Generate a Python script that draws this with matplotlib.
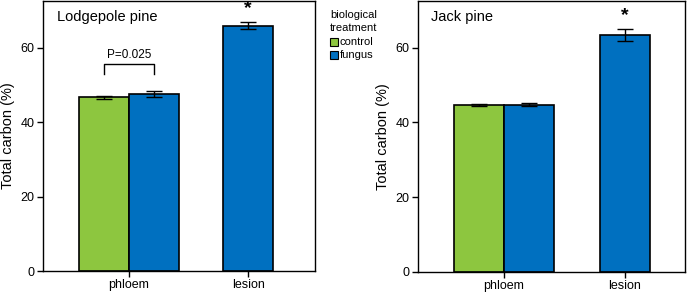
import numpy as np
import matplotlib.pyplot as plt
from matplotlib.patches import Rectangle

plt.rcParams['font.family'] = ['Liberation Sans', 'DejaVu Sans']

tissues = ["phloem", "lesion"]
treatments = ["control", "fungus"]
colors = {"control": "#8dc63f", "fungus": "#0070c0"}

# lodgepole pine: phloem (control, fungus), lesion (fungus only)
lp_control = [46.6]
lp_control_err = [0.5]
lp_fungus = [47.6, 65.9]
lp_fungus_err = [0.8, 1.0]

# jack pine
jp_control = [44.6]
jp_control_err = [0.3]
jp_fungus = [44.8, 63.4]
jp_fungus_err = [0.4, 1.7]

W, H = 691, 293
fig = plt.figure(figsize=(W / 100, H / 100), dpi=100)


def panel(rect, title, ctrl, ctrl_err, fung, fung_err, width, xlim):
    l, t, r, b = rect
    ax = fig.add_axes([l / W, 1 - b / H, (r - l) / W, (b - t) / H])
    ekw = dict(ecolor="black", elinewidth=1, capsize=5.5, capthick=1)
    ax.bar(0 - width / 2, ctrl[0], width, yerr=ctrl_err[0], color=colors["control"],
           edgecolor="black", linewidth=1.2, error_kw=ekw, zorder=2)
    ax.bar([0 + width / 2, 1], fung, width, yerr=fung_err, color=colors["fungus"],
           edgecolor="black", linewidth=1.2, error_kw=ekw, zorder=2)
    ax.set_xlim(*xlim)
    ax.set_ylim(0, 72.5)
    ax.set_yticks([0, 20, 40, 60])
    ax.set_xticks([0, 1])
    ax.set_xticklabels(tissues)
    ax.tick_params(labelsize=9, length=4, width=1, direction="out", pad=2)
    for s in ax.spines.values():
        s.set_linewidth(1)
    ax.set_ylabel("Total carbon (%)", fontsize=10.5, labelpad=4)
    ax.text(0.05, 0.94, title, transform=ax.transAxes, fontsize=10.5, va="center")
    ax.text(1, fung[1] + fung_err[1] + 3.6, "*", ha="center", va="center",
            fontsize=14, fontweight="bold")
    return ax


ax1 = panel((43, 1, 315, 271), "Lodgepole pine", lp_control, lp_control_err,
            lp_fungus, lp_fungus_err, 0.419, (-0.718, 1.559))
ax2 = panel((418, 1, 685, 272), "Jack pine", jp_control, jp_control_err,
            jp_fungus, jp_fungus_err, 0.413, (-0.708, 1.496))

# significance bracket on lodgepole phloem
bx = [-0.209, -0.209, 0.209, 0.209]
by = [52.8, 55.5, 55.5, 52.8]
ax1.plot(bx, by, color="black", lw=1)
ax1.text(0, 56.3, "P=0.025", ha="center", va="bottom", fontsize=8.5)

# legend between panels
fig.text(330 / W, 1 - 15 / H, "biological", fontsize=8, va="center")
fig.text(330 / W, 1 - 28 / H, "treatment", fontsize=8, va="center")
for i, tr in enumerate(treatments):
    yc = 42 + 12.5 * i
    fig.patches.append(Rectangle((330 / W, 1 - (yc + 4) / H), 8 / W, 8 / H,
                                 transform=fig.transFigure, facecolor=colors[tr],
                                 edgecolor="black", linewidth=0.8))
    fig.text(340 / W, 1 - yc / H, tr, fontsize=8, va="center")

fig.savefig("out.png", dpi=100)
